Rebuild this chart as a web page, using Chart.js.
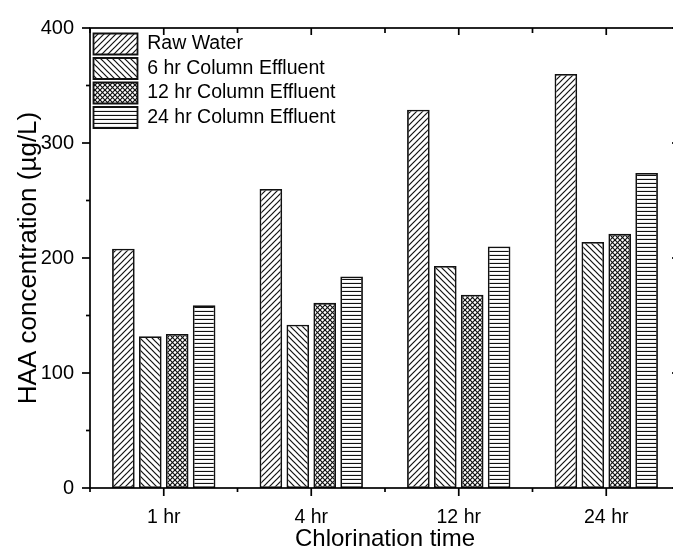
<!DOCTYPE html>
<html>
<head>
<meta charset="utf-8">
<title>HAA concentration vs chlorination time</title>
<script src="https://cdn.jsdelivr.net/npm/chart.js@4.4.1/dist/chart.umd.min.js"></script>
<style>
  html, body { margin: 0; padding: 0; overflow: hidden; background: #fff; }
  canvas { display: block; }
</style>
</head>
<body>
<canvas id="chart" width="700" height="559"></canvas>
<script>
// Chlorination time groups and HAA results (ug/L)
const categories = ['1 hr', '4 hr', '12 hr', '24 hr'];
const rawWater = [208, 260, 329, 360];
const effluent6hr = [132, 142, 193, 214];
const effluent12hr = [134, 161, 168, 221];
const effluent24hr = [159, 184, 210, 274];
const yTicks = [0, 100, 200, 300, 400];

const FONT = '"Liberation Sans", Arial, sans-serif';
const canvas = document.getElementById('chart');
const ctx = canvas.getContext('2d');

// Build a small repeating hatch tile: '/', '\', 'x' or '-'
function hatch(kind) {
  const s = kind === '-' ? 4 : (kind === 'x' ? 5 : 6);
  const tile = document.createElement('canvas');
  tile.width = s;
  tile.height = s;
  const g = tile.getContext('2d');
  g.fillStyle = '#fff';
  g.fillRect(0, 0, s, s);
  g.strokeStyle = '#111';
  g.lineWidth = 1.2;
  const line = (x1, y1, x2, y2) => { g.beginPath(); g.moveTo(x1, y1); g.lineTo(x2, y2); g.stroke(); };
  if (kind === '/' || kind === 'x') {
    line(-1, s + 1, s + 1, -1);
    line(-1, 1, 1, -1);
    line(s - 1, s + 1, s + 1, s - 1);
  }
  if (kind === '\\' || kind === 'x') {
    line(-1, -1, s + 1, s + 1);
    line(s - 1, -1, s + 1, 1);
    line(-1, s - 1, 1, s + 1);
  }
  if (kind === '-') {
    line(0, s - 0.5, s, s - 0.5);
  }
  return ctx.createPattern(tile, 'repeat');
}

// Legend sits inside the plot box, just under the top axis
const legendInside = {
  id: 'legendInside',
  afterLayout(chart) {
    const lg = chart.legend;
    const dy = chart.chartArea.top + 2;
    lg.top += dy;
    lg.bottom += dy;
  }
};

// Box frame with inward ticks on top/right, outward on bottom/left
const frame = {
  id: 'frame',
  afterDraw(chart) {
    const { ctx, chartArea: a, scales: { x, y } } = chart;
    ctx.save();
    ctx.strokeStyle = '#000';
    ctx.lineWidth = 1.7;
    ctx.strokeRect(a.left, a.top, a.right - a.left, a.bottom - a.top);
    const tick = (x1, y1, x2, y2) => { ctx.beginPath(); ctx.moveTo(x1, y1); ctx.lineTo(x2, y2); ctx.stroke(); };

    for (let v = y.min; v <= y.max; v += 50) {
      const py = y.getPixelForValue(v);
      const len = v % 100 === 0 ? 8 : 4;
      tick(a.left - len, py, a.left, py);
      tick(a.right, py, a.right - len, py);
    }

    const step = (a.right - a.left) / categories.length;
    categories.forEach((c, i) => {
      const px = x.getPixelForValue(i);
      tick(px, a.bottom, px, a.bottom + 8);
      tick(px, a.top, px, a.top + 7);
    });
    for (let i = 0; i <= categories.length; i++) {
      const px = a.left + i * step;
      tick(px, a.bottom, px, a.bottom + 4);
      tick(px, a.top, px, a.top + 5);
    }
    ctx.restore();
  }
};

const series = [
  { label: 'Raw Water', data: rawWater, kind: '/' },
  { label: '6 hr Column Effluent', data: effluent6hr, kind: '\\' },
  { label: '12 hr Column Effluent', data: effluent12hr, kind: 'x' },
  { label: '24 hr Column Effluent', data: effluent24hr, kind: '-' }
];

new Chart(canvas, {
  type: 'bar',
  data: {
    labels: categories,
    datasets: series.map(s => ({
      label: s.label,
      data: s.data,
      backgroundColor: hatch(s.kind),
      borderColor: '#111',
      borderWidth: 1.8,
      borderSkipped: false,
      categoryPercentage: 0.73,
      barPercentage: 0.84
    }))
  },
  options: {
    responsive: false,
    animation: false,
    layout: { padding: { top: 23, right: 20, left: 0, bottom: 0 } },
    plugins: {
      tooltip: { enabled: false },
      legend: {
        position: 'chartArea',
        align: 'start',
        labels: {
          boxWidth: 44,
          boxHeight: 21,
          padding: 3.5,
          color: '#000',
          font: { family: FONT, size: 19.5 }
        }
      }
    },
    scales: {
      x: {
        afterFit: s => { s.height = 71; },
        grid: { display: false, drawTicks: false },
        border: { display: false },
        ticks: { color: '#000', padding: 18, maxRotation: 0, font: { family: FONT, size: 19.5 } },
        title: {
          display: true,
          text: 'Chlorination time',
          color: '#000',
          font: { family: FONT, size: 24 },
          padding: { top: 0, bottom: 5 }
        }
      },
      y: {
        min: 0,
        max: 400,
        afterFit: s => { s.width = 90; },
        afterBuildTicks: s => { s.ticks = yTicks.map(v => ({ value: v })); },
        grid: { display: false, drawTicks: false },
        border: { display: false },
        ticks: { color: '#000', padding: 16, font: { family: FONT, size: 20 } },
        title: {
          display: true,
          text: 'HAA concentration (\u00b5g/L)',
          color: '#000',
          font: { family: FONT, size: 26 },
          padding: { top: 13, bottom: 0 }
        }
      }
    }
  },
  plugins: [legendInside, frame]
});
</script>
</body>
</html>
